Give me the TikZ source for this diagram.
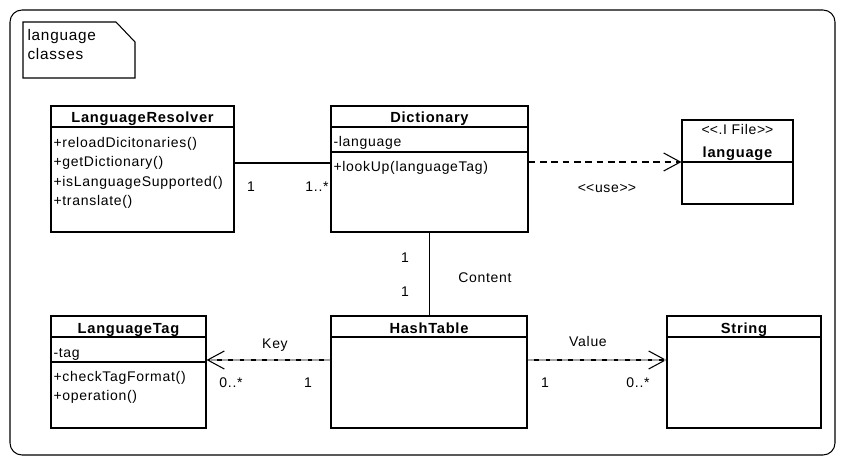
\documentclass[tikz,border=0pt]{standalone}
\usepackage{fontspec}
\setmainfont{Liberation Sans}[LetterSpace=5,Ligatures=TeXOff]
\usetikzlibrary{arrows.meta,fit}

\tikzset{
  classbox/.style={draw,inner sep=0pt,fit={#1}},
  classname/.style={anchor=base,font=\fontsize{11}{13}\selectfont\bfseries},
  member/.style={anchor=base west,inner sep=1.5pt},
  mult/.style={anchor=base},
  dep/.style={dash pattern=on 5pt off 3.5pt,-{Straight Barb[length=12.5pt,width=13.5pt]}},
  assoc/.style={-{Straight Barb[length=12.5pt,width=13.5pt]},
    postaction={draw,-,gray!70,dash pattern=on 5pt off 3.5pt}}
}
\newcommand{\stereo}[1]{<\kern0pt<#1>\kern0pt>}

\begin{document}
\begin{tikzpicture}[x=0.75pt,y=-0.75pt,line width=0.8pt,
    every node/.style={font=\fontsize{10.5}{12.5}\selectfont}]

    \useasboundingbox (0,0) rectangle (847,468);

    %%%% Frame
    \node [draw,rounded corners=9pt,inner sep=0pt,fit={(10,10) (835,455)}] (frame) {};

    % Note
    \draw (23,22) -- (116,22) -- (135,42) -- (135,78) -- (23,78) -- cycle;
    \node [anchor=north west,align=left,inner sep=0pt,font=\fontsize{11.5}{14.5}\selectfont] (notetext) at (27,29) {language\\classes};

    %%%%%%%%%%%%%%%%%%% Top row %%%%%%%%%%%%%%%%%%%%%%%%%%%%%%%
    % LanguageResolver
    \node [classbox={(51,106) (234,232)}] (resolver) {};
    \draw (resolver.west |- 0,127) -- (resolver.east |- 0,127);
    \node [classname] (resolver-name) at (resolver.north |- 0,122.5) {LanguageResolver};
    \foreach \m [count=\i] in {reloadDicitonaries(),getDictionary(),isLanguageSupported(),translate()}
        \node [member] (resolver-m\i) at (51,{127.5+19.5*\i}) {+\m};

    % Dictionary
    \node [classbox={(331,106) (528,232)}] (dict) {};
    \draw (dict.west |- 0,127) -- (dict.east |- 0,127);
    \draw (dict.west |- 0,152) -- (dict.east |- 0,152);
    \node [classname] (dict-name) at (dict.north |- 0,122) {Dictionary};
    \node [member] (dict-a1) at (331,146) {-language};
    \node [member] (dict-m1) at (331,171) {+lookUp(languageTag)};

    % language (interface file)
    \node [classbox={(682,120) (793,204)}] (lang) {};
    \draw (lang.west |- 0,162) -- (lang.east |- 0,162);
    \node [anchor=base] (lang-stereo) at (lang.north |- 0,134) {\stereo{.I File}};
    \node [classname] (lang-name) at (lang.north |- 0,157) {language};

    %%%%%%%%%%%%%%%%%%% Bottom row %%%%%%%%%%%%%%%%%%%%%%%%%%%%
    % LanguageTag
    \node [classbox={(51,316) (206,428)}] (tag) {};
    \draw (tag.west |- 0,337) -- (tag.east |- 0,337);
    \draw (tag.west |- 0,362) -- (tag.east |- 0,362);
    \node [classname] (tag-name) at (tag.north |- 0,333) {LanguageTag};
    \node [member] (tag-a1) at (51,357) {-tag};
    \node [member] (tag-m1) at (51,381) {+checkTagFormat()};
    \node [member] (tag-m2) at (51,400) {+operation()};

    % HashTable
    \node [classbox={(331,316) (527,428)}] (hash) {};
    \draw (hash.west |- 0,337) -- (hash.east |- 0,337);
    \node [classname] (hash-name) at (hash.north |- 0,333) {HashTable};

    % String
    \node [classbox={(667,316) (821,428)}] (string) {};
    \draw (string.west |- 0,337) -- (string.east |- 0,337);
    \node [classname] (string-name) at (string.north |- 0,333) {String};

    %%%%%%%%%%%%%%%%%%% Relations %%%%%%%%%%%%%%%%%%%%%%%%%%%%%
    \draw (resolver.east |- 0,163) -- (dict.west |- 0,163);
    \node [mult] (m-res) at (251,191) {1};
    \node [mult] (m-dict) at (317,191) {1..*};

    \draw [dep] (dict.east |- 0,162) -- (lang.west |- 0,162);
    \node [mult] (use) at (607,192) {\stereo{use}};

    \draw (dict.south) -- (dict.south |- hash.north);
    \node [mult] (m-top) at (405,262) {1};
    \node [mult] (m-bot) at (405,296) {1};
    \node [mult] (content) at (485,282) {Content};

    \draw [assoc] (hash.west |- 0,360) -- (tag.east |- 0,360);
    \node [mult] (key) at (275,348) {Key};
    \node [mult] (m-key1) at (231,387) {0..*};
    \node [mult] (m-key2) at (308,387) {1};

    \draw [assoc] (hash.east |- 0,360) -- (string.west |- 0,360);
    \node [mult] (value) at (588,346) {Value};
    \node [mult] (m-val1) at (545,387) {1};
    \node [mult] (m-val2) at (638,387) {0..*};

\end{tikzpicture}
\end{document}
